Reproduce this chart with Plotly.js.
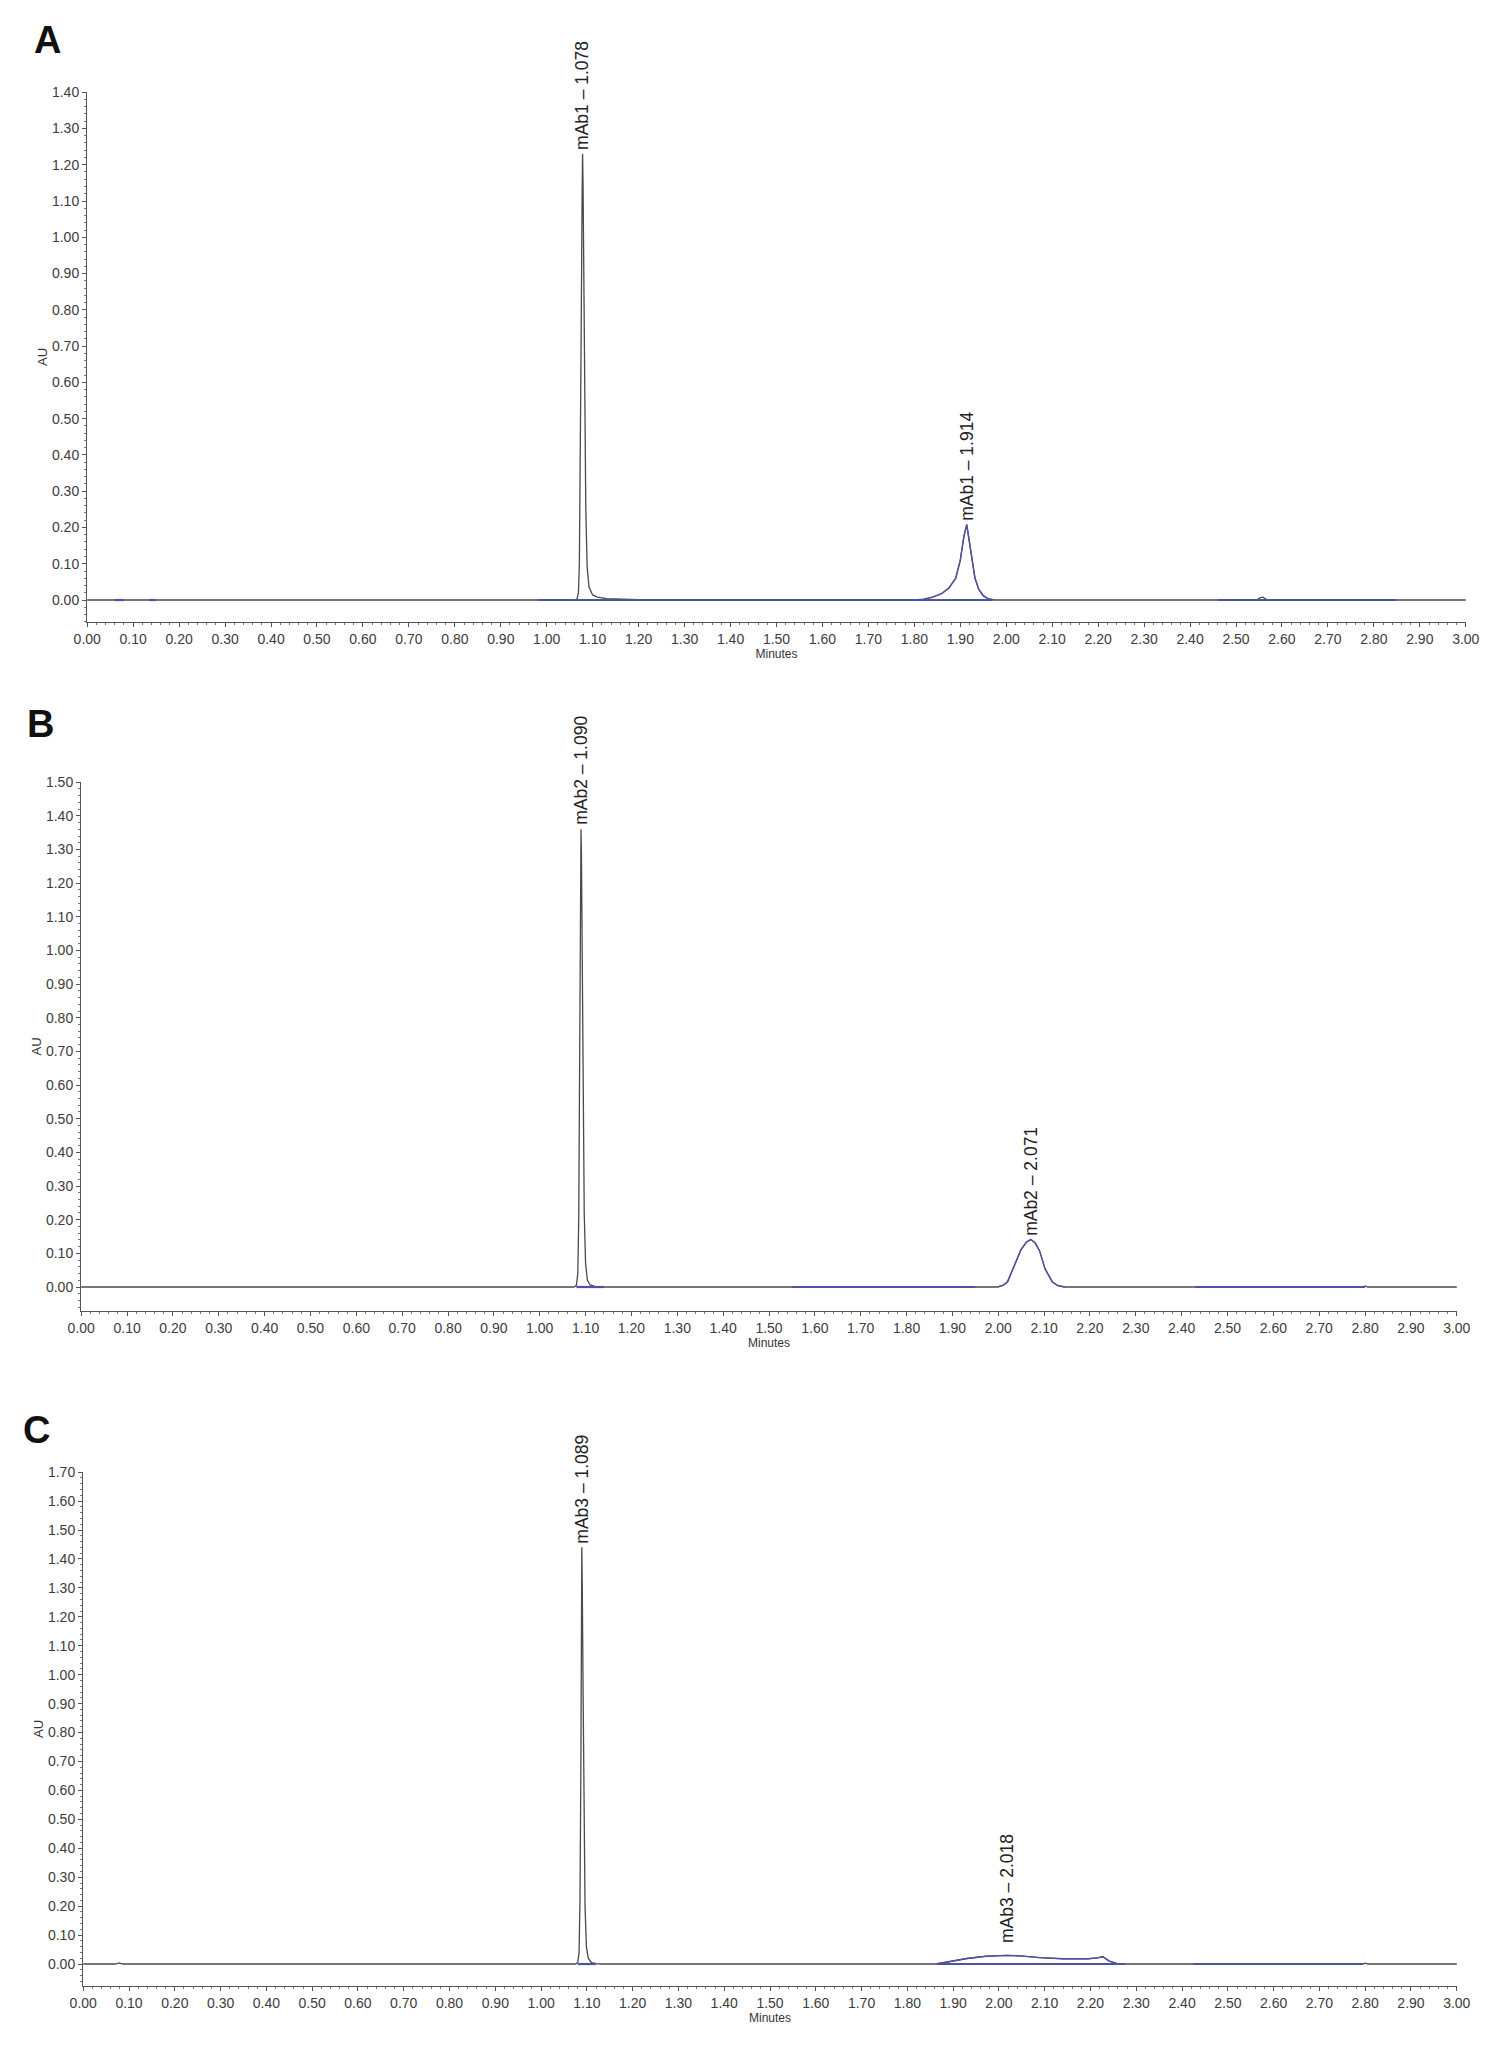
<!DOCTYPE html>
<html>
<head>
<meta charset="utf-8">
<script src="https://cdn.plot.ly/plotly-3.0.1.min.js"></script>
<style>
  html, body { margin: 0; padding: 0; background: #fff; }
  #chart { width: 1504px; height: 2048px; }
</style>
</head>
<body>
<div id="chart"></div>
<script>
// ---- data (minutes, AU) ----

// A : mAb1
var aTime = [0.000, 0.060, 0.070, 0.080, 0.140, 0.145, 0.150, 1.000, 1.060, 1.066, 1.069, 1.071, 1.073, 1.075, 1.077, 1.078, 1.079, 1.081, 1.083, 1.085, 1.088, 1.092, 1.100, 1.110, 1.130, 1.160, 1.200, 1.300,
             1.800, 1.820, 1.840, 1.860, 1.875, 1.890, 1.900, 1.908, 1.914, 1.920, 1.926, 1.932, 1.940, 1.950, 1.960, 1.975,
             2.545, 2.552, 2.558, 2.566, 2.575, 3.000];
var aAU   = [0, 0, 0.002, 0, 0, 0.001, 0, 0, 0, 0.003, 0.02, 0.10, 0.35, 0.75, 1.12, 1.23, 1.15, 0.85, 0.50, 0.25, 0.09, 0.035, 0.014, 0.008, 0.004, 0.002, 0.001, 0,
             0, 0.002, 0.008, 0.018, 0.033, 0.060, 0.110, 0.177, 0.208, 0.160, 0.100, 0.060, 0.030, 0.012, 0.004, 0,
             0, 0.006, 0.008, 0.002, 0, 0];
var aBaseFrom = [0.06, 0.135, 0.98, 2.46];
var aBaseTo   = [0.08, 0.150, 1.97, 2.85];
var aBlueFrom = 1.80, aBlueTo = 1.975;
var aPeakTime = [1.078, 1.914];
var aPeakAU   = [1.23, 0.208];
var aPeakName = ['mAb1 \u2013 1.078', 'mAb1 \u2013 1.914'];

// B : mAb2
var bTime = [0.000, 0.070, 0.075, 0.080, 1.075, 1.080, 1.083, 1.085, 1.087, 1.089, 1.090, 1.091, 1.093, 1.095, 1.097, 1.100, 1.104, 1.110, 1.120, 1.140,
             1.998, 2.010, 2.020, 2.034, 2.050, 2.062, 2.071, 2.080, 2.090, 2.102, 2.118, 2.130, 2.145,
             2.795, 2.800, 2.806, 3.000];
var bAU   = [0, 0, 0.002, 0, 0, 0.005, 0.04, 0.20, 0.65, 1.20, 1.36, 1.28, 0.90, 0.50, 0.22, 0.07, 0.02, 0.006, 0.002, 0,
             0, 0.005, 0.015, 0.060, 0.112, 0.134, 0.141, 0.132, 0.108, 0.054, 0.015, 0.004, 0,
             0, 0.003, 0, 0];
var bBaseFrom = [1.08, 1.55, 2.43];
var bBaseTo   = [1.14, 1.95, 2.80];
var bBlueFrom = 1.99, bBlueTo = 2.15;
var bPeakTime = [1.090, 2.071];
var bPeakAU   = [1.36, 0.141];
var bPeakName = ['mAb2 \u2013 1.090', 'mAb2 \u2013 2.071'];

// C : mAb3
var cTime = [0.000, 0.070, 0.078, 0.086, 1.075, 1.080, 1.083, 1.085, 1.087, 1.088, 1.089, 1.090, 1.092, 1.094, 1.096, 1.099, 1.103, 1.110, 1.120, 1.130,
             1.862, 1.888, 1.930, 1.973, 2.018, 2.046, 2.089, 2.141, 2.194, 2.215, 2.227, 2.241, 2.257, 2.273,
             2.795, 2.800, 2.806, 3.000];
var cAU   = [0, 0, 0.004, 0, 0, 0.005, 0.04, 0.22, 0.70, 1.10, 1.44, 1.30, 0.90, 0.48, 0.20, 0.06, 0.02, 0.005, 0.001, 0,
             0, 0.007, 0.019, 0.027, 0.030, 0.028, 0.022, 0.018, 0.018, 0.021, 0.025, 0.010, 0.002, 0,
             0, 0.003, 0, 0];
var cBaseFrom = [1.08, 1.865, 2.425];
var cBaseTo   = [1.12, 2.275, 2.795];
var cBlueFrom = 1.86, cBlueTo = 2.275;
var cPeakTime = [1.089, 2.018];
var cPeakAU   = [1.44, 0.030];
var cPeakName = ['mAb3 \u2013 1.089', 'mAb3 \u2013 2.018'];

// ---- drawing ----
var W = 1504, H = 2048;
var FONT = 'Arial, "Liberation Sans", sans-serif';
var GREY = '#555555';
var BLUE = '#4f52a3';

function px(x) { return x / W; }
function py(y) { return 1 - y / H; }

function panelTraces(t, au, baseFrom, baseTo, blueFrom, blueTo, xa, ya) {
  var out = [];
  out.push({ x: t, y: au, xaxis: xa, yaxis: ya, type: 'scatter', mode: 'lines',
             line: { color: '#4a4a4a', width: 1.3 }, hoverinfo: 'skip' });
  // integration baselines
  var bx = [], by = [];
  for (var i = 0; i < baseFrom.length; i++) {
    bx.push(baseFrom[i], baseTo[i], null);
    by.push(0, 0, null);
  }
  out.push({ x: bx, y: by, xaxis: xa, yaxis: ya, type: 'scatter', mode: 'lines',
             line: { color: BLUE, width: 2.2 }, hoverinfo: 'skip' });
  // second peak drawn in blue
  var px2 = [], py2 = [];
  for (var j = 0; j < t.length; j++) {
    if (t[j] >= blueFrom && t[j] <= blueTo) { px2.push(t[j]); py2.push(au[j]); }
  }
  out.push({ x: px2, y: py2, xaxis: xa, yaxis: ya, type: 'scatter', mode: 'lines',
             line: { color: BLUE, width: 1.4 }, hoverinfo: 'skip' });
  return out;
}

function peakLabels(times, aus, names, xa, ya) {
  var out = [];
  for (var i = 0; i < times.length; i++) {
    // small labels sit a little higher above low, broad peaks
    var lift = aus[i] < 0.05 ? 10 : 2;
    out.push({ x: times[i], y: aus[i], xref: xa, yref: ya, text: names[i],
               textangle: -90, showarrow: false, xanchor: 'center', yanchor: 'bottom', yshift: lift,
               font: { family: FONT, size: 17.5, color: '#222' } });
  }
  return out;
}

function xAxis(dom, anchor) {
  return {
    domain: dom, anchor: anchor, range: [-0.0005, 3.0005],
    tickmode: 'linear', tick0: 0, dtick: 0.1, tickformat: '.2f',
    ticks: 'outside', ticklen: 4, tickwidth: 1, tickcolor: GREY,
    minor: { dtick: 0.02, ticks: 'outside', ticklen: 2, tickwidth: 1, tickcolor: '#777' },
    showline: true, linecolor: GREY, linewidth: 1,
    showgrid: false, zeroline: false,
    tickfont: { family: FONT, size: 14, color: '#3c3c3c' },
    title: { text: 'Minutes', standoff: 1, font: { family: FONT, size: 12, color: '#333' } }
  };
}

function yAxis(dom, anchor, range) {
  return {
    domain: dom, anchor: anchor, range: range,
    tickmode: 'linear', tick0: 0, dtick: 0.1, tickformat: '.2f',
    ticks: 'outside', ticklen: 4, tickwidth: 1, tickcolor: GREY,
    minor: { dtick: 0.02, ticks: 'outside', ticklen: 2, tickwidth: 1, tickcolor: '#777' },
    showline: true, linecolor: GREY, linewidth: 1,
    showgrid: false, zeroline: false,
    tickfont: { family: FONT, size: 14, color: '#3c3c3c' },
    title: { text: 'AU', standoff: 1, font: { family: FONT, size: 13, color: '#333' } }
  };
}

var data = []
  .concat(panelTraces(aTime, aAU, aBaseFrom, aBaseTo, aBlueFrom, aBlueTo, 'x', 'y'))
  .concat(panelTraces(bTime, bAU, bBaseFrom, bBaseTo, bBlueFrom, bBlueTo, 'x2', 'y2'))
  .concat(panelTraces(cTime, cAU, cBaseFrom, cBaseTo, cBlueFrom, cBlueTo, 'x3', 'y3'));

var letters = [
  { text: '<b>A</b>', x: px(48), y: py(40) },
  { text: '<b>B</b>', x: px(40), y: py(724) },
  { text: '<b>C</b>', x: px(36), y: py(1430) }
].map(function (l) {
  return { text: l.text, x: l.x, y: l.y, xref: 'paper', yref: 'paper', showarrow: false,
           xanchor: 'center', yanchor: 'middle', font: { family: FONT, size: 38, color: '#111' } };
});

var layout = {
  width: W, height: H,
  margin: { l: 0, r: 0, t: 0, b: 0 },
  paper_bgcolor: '#fff', plot_bgcolor: '#fff',
  showlegend: false,
  xaxis:  xAxis([px(87), px(1466)], 'y'),
  yaxis:  yAxis([py(622), py(92)], 'x', [-0.0606, 1.4005]),
  xaxis2: xAxis([px(81), px(1457)], 'y2'),
  yaxis2: yAxis([py(1311), py(782)], 'x2', [-0.0713, 1.5005]),
  xaxis3: xAxis([px(83), px(1457)], 'y3'),
  yaxis3: yAxis([py(1986), py(1472)], 'x3', [-0.076, 1.7005]),
  annotations: letters
    .concat(peakLabels(aPeakTime, aPeakAU, aPeakName, 'x', 'y'))
    .concat(peakLabels(bPeakTime, bPeakAU, bPeakName, 'x2', 'y2'))
    .concat(peakLabels(cPeakTime, cPeakAU, cPeakName, 'x3', 'y3'))
};

Plotly.newPlot('chart', data, layout, { staticPlot: true });
</script>
</body>
</html>
